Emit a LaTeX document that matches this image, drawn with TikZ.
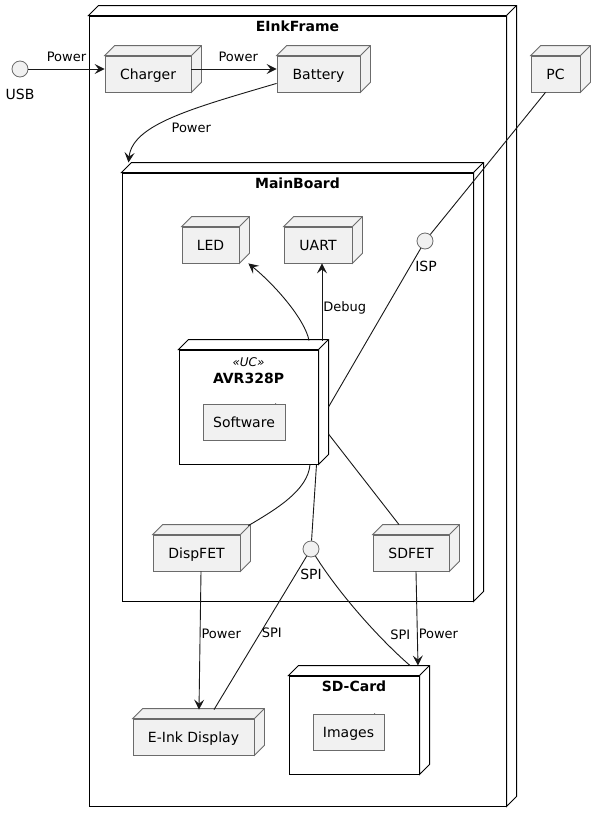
\documentclass[tikz,border=0pt]{standalone}
\usepackage{fontspec}
\setmainfont{DejaVu Sans}
\usetikzlibrary{arrows.meta}
\definecolor{boxfill}{HTML}{F1F1F1}
\definecolor{boxline}{HTML}{6B6B6B}
\definecolor{wire}{HTML}{181818}
\begin{document}
\begin{tikzpicture}[x=1pt, y=-1pt, >={Stealth[length=10pt,width=10pt,inset=4pt]},
  boxdepth/.style={append after command={\pgfextra{%
    \draw[#1] (\tikzlastnode.north west) -- ++(10,-10) -- ([shift={(10,-10)}]\tikzlastnode.north east)
      -- ([shift={(10,-10)}]\tikzlastnode.south east) -- (\tikzlastnode.south east)
      -- (\tikzlastnode.north east) -- cycle;
    \draw[#1] (\tikzlastnode.north east) -- ++(10,-10);}}},
  device/.style={draw=boxline, fill=boxfill, line width=0.8pt, inner sep=0pt, minimum height=36pt,
    font=\fontsize{14}{17}\selectfont, text height=10.2pt, text depth=0pt,
    boxdepth={draw=boxline, fill=boxfill, line width=0.8pt}},
  container/.style={draw=black, fill=white, line width=1pt, inner sep=0pt,
    boxdepth={draw=black, fill=white, line width=1pt}},
  title/.style={anchor=north, inner sep=0pt, yshift=-6pt, font=\fontsize{14}{17}\selectfont\bfseries,
    text height=10.2pt, text depth=0pt},
  filebox/.style={draw=boxline, fill=boxfill, line width=0.8pt, inner sep=0pt, minimum height=36pt,
    font=\fontsize{14}{17}\selectfont, text height=10.2pt, text depth=0pt,
    append after command={\pgfextra{%
      \fill[white] ([shift={(-11,-1.5)}]\tikzlastnode.north east) -- ([shift={(1.5,-1.5)}]\tikzlastnode.north east)
        -- ([shift={(1.5,11)}]\tikzlastnode.north east) -- cycle;
      \draw[boxline, line width=0.8pt, fill=boxfill, line join=round] ([xshift=-10]\tikzlastnode.north east)
        -- ([shift={(0,10)}]\tikzlastnode.north east) -- ([shift={(-10,10)}]\tikzlastnode.north east) -- cycle;}}},
  iface/.style={circle, draw=boxline, fill=boxfill, line width=0.8pt, inner sep=0pt, minimum size=16pt},
  ilabel/.style={inner sep=0pt, label distance=11.5pt, font=\fontsize{14}{17}\selectfont,
    text height=10.2pt, text depth=0pt},
  link/.style={draw=wire, line width=0.9pt},
  elabel/.style={inner sep=1pt, font=\fontsize{13}{15}\selectfont, text height=9.4pt, text depth=0pt}]
\useasboundingbox (0,0) rectangle (605,822);

\node[container, minimum width=417pt, minimum height=790pt, label={[title]north:EInkFrame}] (frame) at (297.5,411) {};
\node[iface, label={[ilabel]below:USB}] (usb) at (20,69) {};
\node[device, minimum width=86pt] (charger) at (148,74) {Charger};
\node[device, minimum width=83pt] (battery) at (318.5,74) {Battery};
\node[device, minimum width=49pt] (pc) at (555.5,74) {PC};

\node[container, minimum width=351pt, minimum height=428pt, label={[title]north:MainBoard}] (board) at (297.5,387) {};
\node[device, minimum width=57pt] (led) at (210.5,245) {LED};
\node[device, minimum width=68pt] (uart) at (318,245) {UART};
\node[iface, label={[ilabel, xshift=1pt]below:ISP}] (isp) at (425,241) {};
\node[container, minimum width=139pt, minimum height=114pt,
  label={[anchor=north, inner sep=0pt, yshift=-7.6pt, align=center, font=\fontsize{14}{17.5}\selectfont\bfseries]north:{{\mdseries\itshape\fontsize{12}{14}\selectfont «UC»}\\AVR328P}}] (avr) at (248.5,407) {};
\node[filebox, minimum width=82pt] (software) at (244,422) {Software};
\node[device, minimum width=87pt] (dispfet) at (196.5,553) {DispFET};
\node[iface, label={[ilabel]below:SPI}] (spi) at (311,549) {};
\node[device, minimum width=76pt] (sdfet) at (411,553) {SDFET};

\node[device, minimum width=121pt] (eink) at (193.5,737) {E-Ink Display};
\node[container, minimum width=130pt, minimum height=98pt, label={[title]north:SD-Card}] (sdcard) at (354,725) {};
\node[filebox, minimum width=71pt] (images) at (348.5,732) {Images};

\coordinate (ledtap) at ([shift={(60.5,-9)}]avr.north);
\coordinate (uarttap) at ([shift={(73.5,-9)}]avr.north);

\draw[link,->] (usb) -- node[elabel, above=6pt] {Power} (usb -| charger.west);
\draw[link,->] (charger.east |- usb) -- node[elabel, above=6pt, pos=0.55] {Power} (battery.west |- usb);
\draw[link,->] ([yshift=9]battery.south west) .. controls +(-85,25) and +(4,-38) .. ([shift={(7,-10)}]board.north west)
  node[elabel, pos=0.5, anchor=north west, xshift=-2pt, yshift=-4pt] {Power};
\draw[link] ([xshift=-10]pc.south) -- (isp);
\draw[link] (isp) -- ([xshift=10]avr.east);
\draw[link,->] (ledtap) .. controls +(-4,-21) and +(27,22) .. ([xshift=9]led.south east);
\draw[link,->] (uarttap) -- node[elabel, anchor=west, pos=0.44] {Debug} (uarttap |- uart.south);
\draw[link] ([xshift=61.5]avr.south) .. controls +(-2,26) and +(27,-16) .. ([shift={(8,-9)}]dispfet.north east);
\draw[link] ([xshift=68]avr.south) -- (spi);
\draw[link] ([shift={(10,27)}]avr.east) -- ([shift={(-12,-10)}]sdfet.north);
\draw[link,->] ([xshift=4.5]dispfet.south) -- node[elabel, anchor=west, pos=0.45] {Power} ([shift={(5.5,-9)}]eink.north);
\draw[link] (spi) -- node[elabel, anchor=west, pos=0.5] {SPI} ([shift={(20.5,-9)}]eink.north);
\draw[link] (spi) .. controls +(29,46) and +(-30,-26) .. ([shift={(56,-10)}]sdcard.north)
  node[elabel, pos=0.67, anchor=west, xshift=11pt] {SPI};
\draw[link,->] ([xshift=5]sdfet.south) -- node[elabel, anchor=west, pos=0.66] {Power} ([shift={(64,-10)}]sdcard.north);
\end{tikzpicture}
\end{document}
